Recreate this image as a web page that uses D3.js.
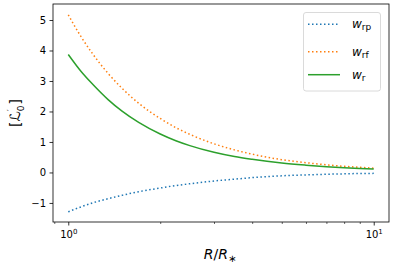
<!DOCTYPE html>
<html>
<head>
<meta charset="utf-8">
<script src="https://cdn.jsdelivr.net/npm/d3@7"></script>
<style>
html,body{margin:0;padding:0;background:#fff;}
svg{display:block;font-family:"DejaVu Sans",sans-serif;}
</style>
</head>
<body>
<svg id="chart" width="393" height="264"></svg>
<script>
// Data
const radius = [1, 1.1, 1.2, 1.35, 1.5, 1.7, 2, 2.25, 2.5, 3, 3.5, 4, 5, 6, 7, 8, 9, 10];
const wRp = [-1.29, -1.13, -1.00, -0.86, -0.75, -0.63, -0.51, -0.43, -0.37, -0.28, -0.22, -0.17, -0.11, -0.08, -0.06, -0.045, -0.035, -0.03];
const wRf = [5.17, 4.46, 3.90, 3.25, 2.76, 2.27, 1.77, 1.47, 1.25, 0.94, 0.74, 0.60, 0.42, 0.32, 0.25, 0.20, 0.17, 0.14];
const wR  = [3.87, 3.32, 2.90, 2.39, 2.01, 1.64, 1.26, 1.04, 0.88, 0.66, 0.52, 0.43, 0.31, 0.24, 0.19, 0.155, 0.13, 0.11];
const yTicks = [-1, 0, 1, 2, 3, 4, 5];
const xMajor = [1, 10];
const xMinor = [0.9, 2, 3, 4, 5, 6, 7, 8, 9];
const seriesNames = [["w", "rp"], ["w", "rf"], ["w", "r"]];
const seriesColors = ["#1f77b4", "#ff7f0e", "#2ca02c"];
const seriesDash = ["1.5,2.5", "1.5,2.5", null];

const svg = d3.select("#chart");
const L = 53, R = 389, T = 4, B = 222;

const x = d3.scaleLog().domain([Math.pow(10, -0.05), Math.pow(10, 1.05)]).range([L, R]);
const y = d3.scaleLinear().domain([-1.625, 5.525]).range([B, T]);

svg.append("defs").append("clipPath").attr("id", "clip")
  .append("rect").attr("x", L).attr("y", T).attr("width", R - L).attr("height", B - T);

const series = [wRp, wRf, wR];
const line = d3.line().x(d => x(d[0])).y(d => y(d[1])).curve(d3.curveMonotoneX);

const g = svg.append("g").attr("clip-path", "url(#clip)");
series.forEach((s, i) => {
  g.append("path")
    .datum(radius.map((r, j) => [r, s[j]]))
    .attr("d", line)
    .attr("fill", "none")
    .attr("stroke", seriesColors[i])
    .attr("stroke-width", 1.5)
    .attr("stroke-dasharray", seriesDash[i]);
});

// Y axis
const yAxis = d3.axisLeft(y).tickValues(yTicks).tickSize(3.5).tickPadding(3.5)
  .tickFormat(d => d < 0 ? "\u2212" + Math.abs(d) : String(d));
const ya = svg.append("g").attr("transform", `translate(${L},0)`).call(yAxis);
ya.select(".domain").remove();
ya.selectAll("text").attr("font-size", 10).attr("fill", "#000").attr("font-family", "DejaVu Sans");
ya.selectAll("line").attr("stroke", "#000").attr("stroke-width", 0.8);

// X axis major
const xAxis = d3.axisBottom(x).tickValues(xMajor).tickSize(3.5).tickPadding(3.5).tickFormat("");
const xa = svg.append("g").attr("transform", `translate(0,${B})`).call(xAxis);
xa.select(".domain").remove();
xa.selectAll("line").attr("stroke", "#000").attr("stroke-width", 0.8);
xa.selectAll(".tick").each(function(d) {
  const t = d3.select(this).append("text")
    .attr("y", 16).attr("fill", "#000").attr("font-size", 10)
    .attr("font-family", "DejaVu Sans").attr("text-anchor", "middle");
  t.append("tspan").text("10");
  t.append("tspan").attr("font-size", 7).attr("dy", -4.5).text(String(Math.round(Math.log10(d))));
});
// X axis minor
const xMinorAxis = d3.axisBottom(x).tickValues(xMinor).tickSize(2).tickFormat("");
const xm = svg.append("g").attr("transform", `translate(0,${B})`).call(xMinorAxis);
xm.select(".domain").remove();
xm.selectAll("line").attr("stroke", "#000").attr("stroke-width", 0.6);

// Frame
svg.append("rect").attr("x", L).attr("y", T).attr("width", R - L).attr("height", B - T)
  .attr("fill", "none").attr("stroke", "#000").attr("stroke-width", 0.8);

// Axis labels
const xl = svg.append("text").attr("x", 220).attr("y", 259).attr("text-anchor", "middle")
  .attr("font-size", 14).attr("fill", "#000").attr("font-family", "DejaVu Sans");
xl.append("tspan").attr("font-style", "italic").text("R");
xl.append("tspan").text("/");
xl.append("tspan").attr("font-style", "italic").text("R");
xl.append("tspan").attr("font-size", 10).attr("dy", 3).text("\u2217");

const yl = svg.append("text").attr("transform", "translate(20,113) rotate(-90)")
  .attr("text-anchor", "middle").attr("font-size", 14).attr("fill", "#000")
  .attr("font-family", "DejaVu Sans");
yl.append("tspan").text("[");
yl.append("tspan").attr("font-style", "italic").text("\u2112");
yl.append("tspan").attr("font-size", 9).attr("dy", -6).text("\u2032");
yl.append("tspan").attr("font-size", 9).attr("dx", -2).attr("dy", 10).text("0");
yl.append("tspan").attr("dx", 1).attr("dy", -4).text("]");

// Legend
const lg = svg.append("g");
lg.append("rect").attr("x", 303.5).attr("y", 12.5).attr("width", 77).attr("height", 78.5)
  .attr("rx", 2.5).attr("fill", "#fff").attr("fill-opacity", 0.8)
  .attr("stroke", "#d0d0d0").attr("stroke-width", 0.8);
const rowsY = [24.3, 51.7, 74.7];
seriesNames.forEach((nm, i) => {
  lg.append("line").attr("x1", 308).attr("x2", 340).attr("y1", rowsY[i]).attr("y2", rowsY[i])
    .attr("stroke", seriesColors[i]).attr("stroke-width", 1.5)
    .attr("stroke-dasharray", seriesDash[i]);
  const t = lg.append("text").attr("x", 352).attr("y", rowsY[i] + 4)
    .attr("font-size", 12).attr("fill", "#000").attr("font-family", "DejaVu Sans");
  t.append("tspan").attr("font-style", "italic").text(nm[0]);
  t.append("tspan").attr("font-size", 9).attr("dy", 2).text(nm[1]);
});
</script>
</body>
</html>
